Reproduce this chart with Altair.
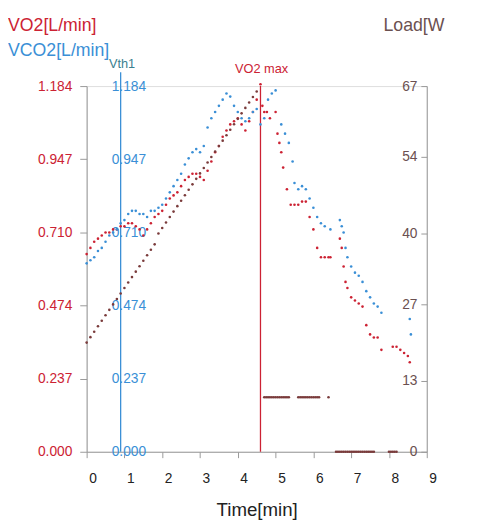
import altair as alt
import pandas as pd

# VO2 [L/min]
vo2_t = [0.0,0.1,0.2,0.3,0.4,0.5,0.6,0.7,0.8,0.9,1.0,1.1,1.2,1.3,1.4,1.5,1.6,1.7,1.8,1.9,2.0,2.1,2.2,2.3,2.4,2.5,2.6,2.7,2.8,2.9,3.0,3.1,3.2,3.3,3.4,3.5,3.6,3.7,3.8,3.9,4.0,4.1,4.2,4.3,4.4,4.5,4.6,4.65,4.7,4.77,4.85,5.0,5.05,5.1,5.15,5.2,5.3,5.4,5.5,5.6,5.7,5.8,5.9,6.0,6.1,6.2,6.3,6.4,6.45,6.7,6.75,6.8,6.85,6.9,7.0,7.1,7.2,7.3,7.4,7.5,7.6,7.7,7.8,8.1,8.2,8.3,8.4,8.5,8.55]
vo2_v = [0.64,0.66,0.68,0.69,0.70,0.71,0.71,0.72,0.72,0.73,0.73,0.74,0.74,0.73,0.72,0.70,0.72,0.74,0.76,0.77,0.78,0.80,0.82,0.83,0.84,0.86,0.88,0.89,0.90,0.90,0.89,0.88,0.91,0.94,0.97,0.99,1.02,1.04,1.06,1.07,1.08,1.06,1.04,1.07,1.10,1.14,1.19,1.12,1.10,1.10,1.08,1.10,1.03,1.00,0.97,0.92,0.85,0.80,0.80,0.80,0.81,0.81,0.76,0.72,0.66,0.63,0.63,0.63,0.63,0.69,0.66,0.60,0.55,0.53,0.50,0.49,0.48,0.47,0.41,0.38,0.37,0.37,0.33,0.34,0.34,0.33,0.32,0.31,0.29]

# VCO2 [L/min]
vco2_t = [0.0,0.1,0.2,0.3,0.4,0.5,0.6,0.7,0.8,0.9,1.0,1.1,1.2,1.3,1.4,1.5,1.6,1.7,1.8,1.9,2.0,2.1,2.2,2.3,2.4,2.5,2.6,2.7,2.8,2.9,3.0,3.1,3.2,3.3,3.4,3.5,3.6,3.7,3.8,3.9,4.0,4.1,4.2,4.3,4.4,4.5,4.6,4.7,4.8,4.9,5.0,5.15,5.25,5.35,5.45,5.5,5.6,5.7,5.8,5.9,6.0,6.1,6.2,6.3,6.45,6.7,6.75,6.8,6.85,6.9,7.0,7.1,7.2,7.3,7.4,7.5,7.6,7.7,7.8,8.55,8.58]
vco2_v = [0.61,0.62,0.63,0.65,0.66,0.68,0.70,0.71,0.72,0.74,0.75,0.77,0.78,0.78,0.77,0.77,0.76,0.78,0.78,0.79,0.80,0.82,0.84,0.86,0.88,0.90,0.93,0.95,0.97,0.98,0.97,0.99,1.05,1.08,1.10,1.12,1.14,1.16,1.15,1.12,1.10,1.08,1.07,1.08,1.10,1.11,1.06,1.08,1.14,1.16,1.17,1.06,1.03,1.00,0.94,0.87,0.85,0.86,0.85,0.82,0.79,0.76,0.74,0.73,0.72,0.75,0.73,0.71,0.66,0.63,0.60,0.58,0.57,0.55,0.52,0.50,0.48,0.47,0.45,0.43,0.38]

# Load [W]
load_t = [0.0,0.1,0.2,0.3,0.4,0.5,0.6,0.7,0.8,0.9,1.0,1.1,1.2,1.3,1.4,1.5,1.6,1.7,1.8,1.9,2.0,2.1,2.2,2.3,2.4,2.5,2.6,2.7,2.8,2.9,3.0,3.1,3.2,3.3,3.4,3.5,3.6,3.7,3.8,3.9,4.0,4.1,4.2,4.3,4.4,4.5,
          4.7,4.75,4.8,4.85,4.9,4.95,5.0,5.05,5.1,5.15,5.2,5.25,5.3,5.35,5.6,5.65,5.7,5.75,5.8,5.85,5.9,5.95,6.0,6.05,6.1,6.15,6.4,
          6.6,6.65,6.7,6.75,6.8,6.85,6.9,6.95,7.0,7.05,7.1,7.15,7.2,7.25,7.3,7.35,7.4,7.45,7.5,7.55,7.6,8.0,8.05,8.1,8.15,8.2]
load_v = [20,21,22,23,24,25,26,27,28,29,30,31,32,33,34,35,36,37,38,40,41,42,43,44,45,46,47,48,49,50,51,52,53,54,55,56,57,58,59,60,61,62,63,64,65,66,
          10,10,10,10,10,10,10,10,10,10,10,10,10,10,10,10,10,10,10,10,10,10,10,10,10,10,10,
          0,0,0,0,0,0,0,0,0,0,0,0,0,0,0,0,0,0,0,0,0,0,0,0,0,0]

vo2_ticks = [0, 0.237, 0.474, 0.710, 0.947, 1.184]
load_ticks = [0, 13, 27, 40, 54, 67]
time_ticks = [0, 1, 2, 3, 4, 5, 6, 7, 8, 9]
vth1 = 0.9
vo2max = 4.6

RED = "#cc2233"
BLUE = "#3a8fd6"
BROWN = "#7a3b3b"
W, H = 346, 372
FONT = "Liberation Sans"

def frame(ts, vs):
    return pd.DataFrame(list(zip(ts, vs)), columns=["t", "v"])

vo2 = frame(vo2_t, vo2_v)
vco2 = frame(vco2_t, vco2_v)
load = frame(load_t, load_v)

xs = alt.Scale(domain=[0, 9], nice=False)
xax = alt.Axis(values=time_ticks, title="Time[min]", labelOffset=6, labelFontSize=14,
               labelOverlap=False, labelFlush=False, labelBound=False, labelPadding=14,
               titleFontSize=19, titleFontWeight="normal", titlePadding=16, grid=False,
               domainColor="#999", tickColor="#999", labelColor="#222", titleColor="#222",
               labelFont=FONT, titleFont=FONT, tickSize=6)
ys = alt.Scale(domain=[0, 1.184], nice=False)
X = alt.X("t:Q", scale=xs, axis=xax)

red = alt.Chart(vo2).mark_point(filled=True, size=7, color=RED, opacity=1).encode(
    x=X,
    y=alt.Y("v:Q", scale=ys, axis=alt.Axis(orient="left", values=vo2_ticks, format=".3f", title=None,
            labelColor=RED, labelFontSize=14, labelFont=FONT, grid=False, domainColor="#999",
            tickColor="#999", tickSize=7, labelPadding=8)))

blue = alt.Chart(vco2).mark_point(filled=True, size=7, color=BLUE, opacity=1).encode(
    x=X,
    y=alt.Y("v:Q", scale=ys, axis=alt.Axis(orient="left", offset=-62, values=vo2_ticks, format=".3f",
            title=None, labelColor=BLUE, labelFontSize=14, labelFont=FONT, grid=False,
            domain=False, ticks=False, labelPadding=2)))

brown = alt.Chart(load).mark_point(filled=True, size=7, color=BROWN, opacity=1).encode(
    x=X,
    y=alt.Y("v:Q", scale=alt.Scale(domain=[0, 67], nice=False),
            axis=alt.Axis(orient="left", offset=-W, values=load_ticks, title=None,
            labelColor="#6b5050", labelFontSize=14, labelFont=FONT, grid=False,
            domainColor="#999", tickColor="#999", tickSize=6, labelPadding=4)))

rules = pd.DataFrame({"t": [vth1, vo2max], "c": [BLUE, RED], "top": [-14, 0]})
rule = alt.Chart(rules).mark_rule(strokeWidth=1.3).encode(
    x=X, color=alt.Color("c:N", scale=None),
    y=alt.Y("top:Q", scale=None), y2=alt.value(H))

labels = pd.DataFrame({
    "t": ["VO2[L/min]", "VCO2[L/min]", "Load[W", "Vth1", "VO2 max"],
    "x": [-80, -80, 302, 36, 178],
    "y": [-61, -36, -61, -22, -17],
    "c": [RED, BLUE, "#6b5050", "#3a7f8f", RED],
    "s": [18, 18, 18, 13, 13],
    "a": ["left", "left", "left", "center", "center"],
})

txt_left = alt.Chart(labels[labels.a == "left"]).mark_text(font=FONT, baseline="middle", align="left").encode(
    x=alt.X("x:Q", scale=None), y=alt.Y("y:Q", scale=None), text="t:N",
    color=alt.Color("c:N", scale=None), size=alt.Size("s:Q", scale=None))
txt_center = alt.Chart(labels[labels.a == "center"]).mark_text(font=FONT, baseline="middle", align="center").encode(
    x=alt.X("x:Q", scale=None), y=alt.Y("y:Q", scale=None), text="t:N",
    color=alt.Color("c:N", scale=None), size=alt.Size("s:Q", scale=None))

chart = alt.layer(rule, red, blue, brown, txt_left, txt_center).resolve_scale(
    y="independent", color="independent", size="independent"
).properties(
    width=W, height=H, padding={"left": 80, "top": 75, "right": 45, "bottom": 66},
    autosize=alt.AutoSizeParams(type="none"),
).configure_view(stroke=None).configure_axisX(labelOverlap=False).configure(background="white")

chart.save("out.html", embed_options={"renderer": "svg", "actions": False})
